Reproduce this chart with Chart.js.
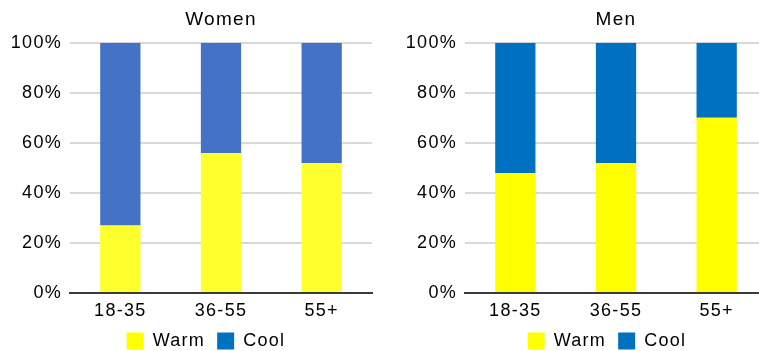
<!DOCTYPE html>
<html>
<head>
<meta charset="utf-8">
<script src="https://cdn.jsdelivr.net/npm/chart.js@4/dist/chart.umd.min.js"></script>
<style>
  html, body { margin: 0; padding: 0; background: #fff; overflow: hidden; width: 759px; height: 351px; }
  canvas { position: absolute; top: 0; }
  #women { left: 0; }
  #men { left: 390px; }
</style>
</head>
<body>
<canvas id="women" width="380" height="360"></canvas>
<canvas id="men" width="377" height="360"></canvas>
<script>
// Age groups and share (%) of warm vs cool preference
const ageGroups = ['18-35', '36-55', '55+'];
const womenWarm = [27, 56, 52];
const womenCool = [73, 44, 48];
const menWarm = [48, 52, 70];
const menCool = [52, 48, 30];
const yTicks = [0, 20, 40, 60, 80, 100];
const seriesNames = ['Warm', 'Cool'];

const FONT = '"Liberation Sans", Arial, Helvetica, sans-serif';
const legendColors = ['#FFFF00', '#0070C0'];

// Slightly wider text spacing on the canvas
const spacing = {
  id: 'spacing',
  beforeUpdate(chart) { chart.ctx.letterSpacing = '1.3px'; },
  beforeDraw(chart) { chart.ctx.letterSpacing = '1.3px'; }
};

// Nudges the legend block sideways by options.plugins.legendShift.offset
const legendShift = {
  id: 'legendShift',
  afterLayout(chart, args, opts) {
    const lg = chart.legend;
    if (lg && opts.offset) { lg.left += opts.offset; lg.right += opts.offset; }
  }
};

function makeChart(id, title, warm, cool, colors, axisWidth, padRight, legendOffset) {
  return new Chart(document.getElementById(id), {
    type: 'bar',
    data: {
      labels: ageGroups,
      datasets: [
        { label: seriesNames[0], data: warm, backgroundColor: colors[0] },
        { label: seriesNames[1], data: cool, backgroundColor: colors[1] }
      ]
    },
    options: {
      responsive: false,
      animation: false,
      devicePixelRatio: 1,
      categoryPercentage: 1,
      barPercentage: 0.4,
      layout: { padding: { left: 0, right: padRight, top: 0, bottom: 0 } },
      plugins: {
        legendShift: { offset: legendOffset },
        title: {
          display: true,
          text: title,
          fullSize: false,
          color: '#000',
          font: { family: FONT, size: 19, weight: 'normal', lineHeight: 1.2 },
          padding: { top: 8, bottom: 12 }
        },
        legend: {
          position: 'bottom',
          fullSize: false,
          labels: {
            color: '#000',
            font: { family: FONT, size: 18, lineHeight: 1 },
            boxWidth: 17,
            boxHeight: 17,
            padding: 12,
            generateLabels: () => seriesNames.map((name, i) => ({
              text: name,
              fillStyle: legendColors[i],
              strokeStyle: legendColors[i],
              lineWidth: 0,
              datasetIndex: i
            }))
          }
        },
        tooltip: { enabled: false }
      },
      scales: {
        x: {
          stacked: true,
          grid: { display: false, drawTicks: false },
          border: { display: true, color: '#3a3a3a', width: 2 },
          ticks: { color: '#000', font: { family: FONT, size: 18, lineHeight: 1 }, padding: 9 },
          afterFit: (s) => { s.height = 27; }
        },
        y: {
          stacked: true,
          min: 0,
          max: 100,
          afterBuildTicks: (s) => { s.ticks = yTicks.map(v => ({ value: v })); },
          grid: { color: '#d9d9d9', lineWidth: 2, drawTicks: false },
          border: { display: false },
          ticks: {
            color: '#000',
            font: { family: FONT, size: 18 },
            padding: 8,
            callback: (v) => v + '%'
          },
          afterFit: (s) => { s.width = axisWidth; }
        }
      }
    },
    plugins: [spacing, legendShift]
  });
}

makeChart('women', 'Women', womenWarm, womenCool, ['#FFFF2E', '#4472C4'], 70, 8, -15);
makeChart('men', 'Men', menWarm, menCool, ['#FFFF00', '#0070C0'], 75, 0, -9);
</script>
</body>
</html>
